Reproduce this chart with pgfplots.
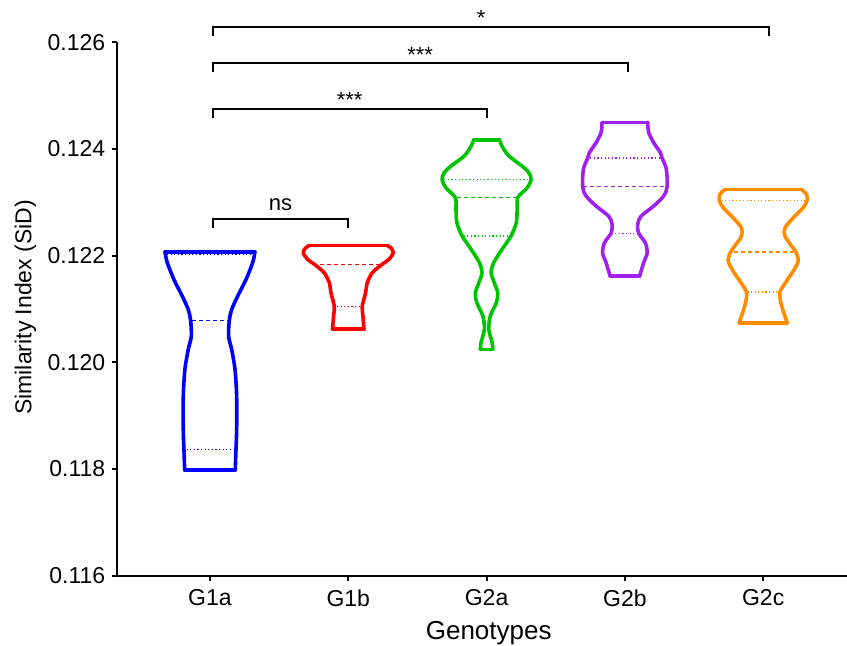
\documentclass[border=0pt]{standalone}
\usepackage{fontspec}
\setmainfont{Liberation Sans}
\usepackage{pgfplots}
\pgfplotsset{compat=1.18}
\usepackage{pgfplotstable}

\definecolor{cA}{HTML}{0000FF}
\definecolor{cB}{HTML}{FF0000}
\definecolor{cC}{HTML}{00C400}
\definecolor{cD}{HTML}{A020F0}
\definecolor{cE}{HTML}{FF8C00}

% violin outlines: half-width w (category units), y (bottom -> top)
\pgfplotstableread{
w y
0.183 0.11798
0.188 0.11836
0.193 0.11874
0.193 0.11936
0.181 0.11987
0.157 0.12024
0.135 0.12049
0.140 0.12079
0.157 0.12099
0.200 0.12124
0.260 0.12155
0.309 0.12187
0.325 0.12207
}\vGa
\pgfplotstableread{
w y
0.114 0.12062
0.106 0.12087
0.101 0.12105
0.125 0.12130
0.137 0.12149
0.174 0.12168
0.246 0.12184
0.294 0.12193
0.325 0.12205
0.311 0.12214
0.282 0.12219
}\vGb
\pgfplotstableread{
w y
0.045 0.12024
0.040 0.12037
0.016 0.12062
0.027 0.12087
0.071 0.12112
0.081 0.12130
0.056 0.12149
0.033 0.12168
0.052 0.12187
0.112 0.12212
0.177 0.12237
0.215 0.12262
0.221 0.12287
0.226 0.12309
0.293 0.12327
0.322 0.12343
0.305 0.12356
0.257 0.12368
0.161 0.12387
0.112 0.12405
0.093 0.12417
}\vGc
\pgfplotstableread{
w y
0.107 0.12162
0.136 0.12187
0.161 0.12205
0.148 0.12224
0.100 0.12242
0.093 0.12259
0.117 0.12274
0.208 0.12293
0.281 0.12312
0.305 0.12329
0.300 0.12362
0.269 0.12383
0.257 0.12393
0.208 0.12412
0.172 0.12431
0.165 0.12450
}\vGd
\pgfplotstableread{
w y
0.174 0.12074
0.145 0.12096
0.125 0.12115
0.121 0.12132
0.168 0.12152
0.217 0.12171
0.253 0.12190
0.236 0.12207
0.197 0.12221
0.157 0.12237
0.157 0.12252
0.217 0.12271
0.289 0.12290
0.318 0.12304
0.313 0.12315
0.277 0.12324
}\vGe

\begin{document}
\begin{tikzpicture}
\begin{axis}[
  scale only axis, width=364.85pt, height=266.7pt,
  xmin=-0.670, xmax=4.606, ymin=0.116, ymax=0.126,
  axis x line*=bottom, axis y line*=left,
  axis line style={line width=1pt, -},
  xtick={0,1,2,3,4}, xticklabels={G1a,G1b,G2a,G2b,G2c},
  ytick={0.116,0.118,0.120,0.122,0.124,0.126},
  scaled y ticks=false,
  yticklabel style={/pgf/number format/.cd, fixed, fixed zerofill, precision=3},
  /pgf/number format/assume math mode=true,
  tick align=outside, major tick length=2.5pt,
  tick style={line width=1pt, black},
  ticklabel style={font=\fontsize{11.5}{13}\selectfont},
  xticklabel style={yshift=-1pt},
  xlabel={Genotypes}, ylabel={Similarity Index (SiD)},
  xlabel style={font=\fontsize{13}{15}\selectfont, at={(axis description cs:0.509,-0.107)}, anchor=center},
  ylabel style={font=\fontsize{11.5}{13}\selectfont, at={(axis description cs:-0.126,0.503)}, anchor=center},
  clip=false,
  violin/.style={line width=1.8pt, smooth, tension=0.5, line cap=round, line join=round, mark=none},
  edge/.style={line width=1.8pt, line cap=round, mark=none},
  qmed/.style={line width=0.6pt, mark=none, dash pattern=on 2pt off 1.5pt},
  qq/.style={line width=0.6pt, mark=none, dash pattern=on 0.6pt off 1.2pt},
  br/.style={black, line width=1pt, mark=none, line cap=butt, line join=miter},
]
% G1a
\addplot[violin, cA] table[x expr=0-\thisrow{w}, y=y] {\vGa};
\addplot[violin, cA] table[x expr=0+\thisrow{w}, y=y] {\vGa};
\addplot[edge, cA] coordinates {(-0.183,0.11798) (0.183,0.11798)};
\addplot[edge, cA] coordinates {(-0.325,0.12207) (0.325,0.12207)};
\addplot[qmed, cA] coordinates {(-0.128,0.12079) (0.128,0.12079)};
\addplot[qq, cA] coordinates {(-0.169,0.11836) (0.169,0.11836)};
\addplot[qq, cA] coordinates {(-0.31,0.12203) (0.31,0.12203)};
% G1b
\addplot[violin, cB] table[x expr=1-\thisrow{w}, y=y] {\vGb};
\addplot[violin, cB] table[x expr=1+\thisrow{w}, y=y] {\vGb};
\addplot[edge, cB] coordinates {(0.886,0.12062) (1.114,0.12062)};
\addplot[edge, cB] coordinates {(0.718,0.12219) (1.282,0.12219)};
\addplot[qmed, cB] coordinates {(0.747,0.12184) (1.253,0.12184)};
\addplot[qq, cB] coordinates {(0.918,0.12105) (1.082,0.12105)};
% G2a
\addplot[violin, cC] table[x expr=2-\thisrow{w}, y=y] {\vGc};
\addplot[violin, cC] table[x expr=2+\thisrow{w}, y=y] {\vGc};
\addplot[edge, cC] coordinates {(1.955,0.12024) (2.045,0.12024)};
\addplot[edge, cC] coordinates {(1.907,0.12417) (2.093,0.12417)};
\addplot[qq, cC] coordinates {(1.693,0.12343) (2.307,0.12343)};
\addplot[qmed, cC] coordinates {(1.785,0.12309) (2.215,0.12309)};
\addplot[qq, cC] coordinates {(1.834,0.12237) (2.166,0.12237)};
% G2b
\addplot[violin, cD] table[x expr=3-\thisrow{w}, y=y] {\vGd};
\addplot[violin, cD] table[x expr=3+\thisrow{w}, y=y] {\vGd};
\addplot[edge, cD] coordinates {(2.893,0.12162) (3.107,0.12162)};
\addplot[edge, cD] coordinates {(2.835,0.12450) (3.165,0.12450)};
\addplot[qq, cD] coordinates {(2.749,0.12383) (3.251,0.12383)};
\addplot[qmed, cD] coordinates {(2.699,0.12329) (3.301,0.12329)};
\addplot[qq, cD] coordinates {(2.904,0.12242) (3.096,0.12242)};
% G2c
\addplot[violin, cE] table[x expr=4-\thisrow{w}, y=y] {\vGe};
\addplot[violin, cE] table[x expr=4+\thisrow{w}, y=y] {\vGe};
\addplot[edge, cE] coordinates {(3.826,0.12074) (4.174,0.12074)};
\addplot[edge, cE] coordinates {(3.723,0.12324) (4.277,0.12324)};
\addplot[qq, cE] coordinates {(3.699,0.12304) (4.301,0.12304)};
\addplot[qmed, cE] coordinates {(3.787,0.12207) (4.213,0.12207)};
\addplot[qq, cE] coordinates {(3.886,0.12132) (4.114,0.12132)};
% significance brackets
\addplot[br] coordinates {(0.024,0.12612) (0.024,0.12628) (4.04,0.12628) (4.04,0.12612)};
\addplot[br] coordinates {(0.024,0.12545) (0.024,0.12561) (3.02,0.12561) (3.02,0.12545)};
\addplot[br] coordinates {(0.024,0.12459) (0.024,0.12475) (2.0,0.12475) (2.0,0.12459)};
\addplot[br] coordinates {(0.024,0.12252) (0.024,0.12268) (0.998,0.12268) (0.998,0.12252)};
\node[anchor=base, font=\fontsize{11}{13}\selectfont, inner sep=0pt] at (axis cs:1.96,0.12632) {*};
\node[anchor=base, font=\fontsize{11}{13}\selectfont, inner sep=0pt] at (axis cs:1.52,0.12563) {***};
\node[anchor=base, font=\fontsize{11}{13}\selectfont, inner sep=0pt] at (axis cs:1.01,0.12477) {***};
\node[anchor=base, font=\fontsize{11}{13}\selectfont, inner sep=0pt] at (axis cs:0.51,0.12284) {ns};
\end{axis}
\pgfresetboundingbox
\useasboundingbox (-58.65pt,-34.65pt) rectangle (364.85pt,287.85pt);
\end{tikzpicture}
\end{document}
